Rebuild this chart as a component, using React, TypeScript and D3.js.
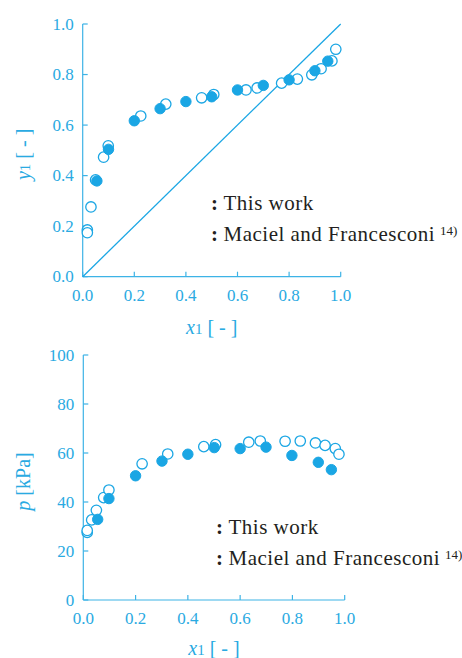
import React from "react";
import * as d3 from "d3";

// Top chart: y1 vs x1
const yThisX = [0.055, 0.1, 0.2, 0.3, 0.4, 0.5, 0.6, 0.7, 0.8, 0.9, 0.95];
const yThisY = [0.379, 0.504, 0.617, 0.665, 0.693, 0.712, 0.739, 0.757, 0.779, 0.815, 0.853];
const yMacX = [0.018, 0.018, 0.032, 0.05, 0.081, 0.099, 0.225, 0.322, 0.461, 0.508, 0.633, 0.676, 0.771, 0.832, 0.888, 0.924, 0.966, 0.981];
const yMacY = [0.185, 0.174, 0.276, 0.383, 0.473, 0.518, 0.636, 0.683, 0.708, 0.721, 0.739, 0.747, 0.766, 0.782, 0.799, 0.823, 0.854, 0.9];

// Bottom chart: p vs x1
const pThisX = [0.055, 0.098, 0.2, 0.301, 0.4, 0.501, 0.6, 0.699, 0.798, 0.899, 0.949];
const pThisY = [32.9, 41.4, 50.7, 56.7, 59.5, 62.2, 61.8, 62.4, 59.0, 56.2, 53.2];
const pMacX = [0.015, 0.015, 0.032, 0.05, 0.078, 0.098, 0.225, 0.323, 0.461, 0.506, 0.633, 0.677, 0.772, 0.83, 0.888, 0.925, 0.964, 0.978];
const pMacY = [27.6, 28.4, 32.7, 36.6, 41.8, 44.9, 55.6, 59.6, 62.6, 63.4, 64.4, 64.9, 64.8, 64.9, 64.1, 63.1, 61.8, 59.5];

const xTicks = [0, 0.2, 0.4, 0.6, 0.8, 1.0];
const y1Ticks = [0, 0.2, 0.4, 0.6, 0.8, 1.0];
const pTicks = [0, 20, 40, 60, 80, 100];
const legendLabels = ["This work", "Maciel and Francesconi"];
const refMark = "14)";

const BLUE = "#1aa6e4";
const AXIS = "#3db3e6";
const TXT = "#2aaae2";
const FONT = "Liberation Serif, Times New Roman, DejaVu Serif, serif";
const fs = (size: number, extra: any = {}) => ({ fontFamily: FONT, fontSize: size + "px", ...extra });

function Panel(props: any) {
  const { x0, x1, yTop, yBot, yDomain, yTicks, yFmt, thisX, thisY, macX, macY, diag, legX, legY, title, xTitleY } = props;
  const xs = d3.scaleLinear().domain([0, 1]).range([x0, x1]);
  const ys = d3.scaleLinear().domain(yDomain).range([yBot, yTop]);
  const r = 5.2;
  return (
    <g>
      <line x1={x0} y1={yTop} x2={x0} y2={yBot} stroke={AXIS} strokeWidth={1.2} />
      <line x1={x0} y1={yBot} x2={x1} y2={yBot} stroke={AXIS} strokeWidth={1.2} />
      {xTicks.map((t) => (
        <g key={"x" + t}>
          <line x1={xs(t)} x2={xs(t)} y1={yBot} y2={yBot - 5} stroke={AXIS} strokeWidth={1.2} />
          <text x={xs(t)} y={yBot + 24} textAnchor="middle" fill={TXT} style={fs(17)}>
            {d3.format(".1f")(t)}
          </text>
        </g>
      ))}
      {yTicks.map((t: number) => (
        <g key={"y" + t}>
          <line x1={x0} x2={x0 + 5} y1={ys(t)} y2={ys(t)} stroke={AXIS} strokeWidth={1.2} />
          <text x={x0 - 9} y={ys(t) + 5.5} textAnchor="end" fill={TXT} style={fs(17)}>
            {yFmt(t)}
          </text>
        </g>
      ))}
      {diag && (
        <line x1={xs(0)} y1={ys(0)} x2={xs(1)} y2={ys(1)} stroke={BLUE} strokeWidth={1.3} />
      )}
      {macX.map((v: number, i: number) => (
        <circle key={"m" + i} cx={xs(v)} cy={ys(macY[i])} r={r} fill="white" stroke={BLUE} strokeWidth={1.3} />
      ))}
      {thisX.map((v: number, i: number) => (
        <circle key={"t" + i} cx={xs(v)} cy={ys(thisY[i])} r={r} fill={BLUE} stroke={BLUE} strokeWidth={1} />
      ))}
      {legendLabels.map((l, i) => (
        <text key={l} x={legX} y={legY + i * 31} fill="#231f20" style={fs(21, { letterSpacing: "0.5px" })}>
          <tspan fontWeight="bold">:</tspan>
          <tspan dx={5}>{l}</tspan>
          {i === 1 && (
            <tspan dx={5} dy={-6} style={{ fontSize: "13px", letterSpacing: "0px" }}>
              {refMark}
            </tspan>
          )}
        </text>
      ))}
      <text x={(x0 + x1) / 2} y={xTitleY} textAnchor="middle" fill={TXT} style={fs(20)}>
        <tspan fontStyle="italic">x</tspan>
        <tspan style={{ fontSize: "15px" }}>1</tspan>
        <tspan dx={5}>[ - ]</tspan>
      </text>
      <text transform={`translate(30, ${(yTop + yBot) / 2 + 4}) rotate(-90)`} textAnchor="middle" fill={TXT} style={fs(20)}>
        {title}
      </text>
    </g>
  );
}

export default function App() {
  return (
    <svg width={462} height={658} style={{ position: "absolute", left: 0, top: 0, background: "white" }}>
      <Panel
        x0={82.7}
        x1={340.7}
        yTop={24}
        yBot={276.7}
        yDomain={[0, 1]}
        yTicks={y1Ticks}
        yFmt={d3.format(".1f")}
        thisX={yThisX}
        thisY={yThisY}
        macX={yMacX}
        macY={yMacY}
        diag={true}
        legX={211}
        legY={210}
        xTitleY={334}
        title={
          <>
            <tspan fontStyle="italic">y</tspan>
            <tspan style={{ fontSize: "15px" }}>1</tspan>
            <tspan dx={5}>[ - ]</tspan>
          </>
        }
      />
      <Panel
        x0={83.3}
        x1={344.7}
        yTop={355}
        yBot={600}
        yDomain={[0, 100]}
        yTicks={pTicks}
        yFmt={d3.format("d")}
        thisX={pThisX}
        thisY={pThisY}
        macX={pMacX}
        macY={pMacY}
        diag={false}
        legX={216}
        legY={534}
        xTitleY={655}
        title={
          <>
            <tspan fontStyle="italic">p</tspan>
            <tspan dx={5}>[kPa]</tspan>
          </>
        }
      />
    </svg>
  );
}
